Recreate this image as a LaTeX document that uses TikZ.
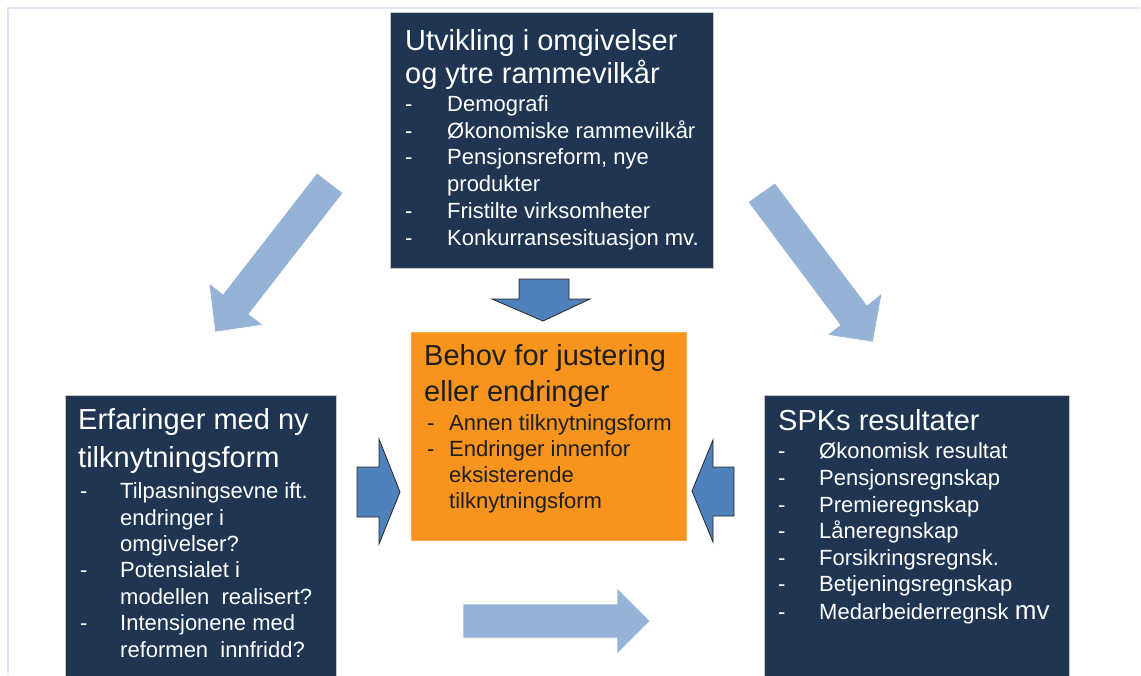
\documentclass[tikz,border=0pt]{standalone}
\usepackage{fontspec}
\setmainfont{Liberation Sans}

\definecolor{navy}{HTML}{1F3552}
\definecolor{frameblue}{HTML}{DCE6F2}
\definecolor{paleblue}{HTML}{95B3D7}
\definecolor{midblue}{HTML}{4F81BD}
\definecolor{boxorange}{HTML}{F7941E}
\definecolor{darktext}{HTML}{1E1E1E}

\tikzset{
	panel/.style = {anchor = north west, inner sep = 0pt, draw = gray!45, line width = 0.6pt},
	heading/.style = {anchor = base west, inner sep = 0pt, font = \fontsize{29}{33}\selectfont},
	entry/.style = {anchor = base west, inner sep = 0pt, font = \fontsize{22}{27}\selectfont},
	pale arrow/.style = {fill = paleblue, draw = white, line width = 0.6pt},
	push arrow/.style = {fill = midblue, draw = black!85, line width = 0.8pt, line join = miter}
}

\begin{document}
\begin{tikzpicture}[x = 1pt, y = -1pt]

	\useasboundingbox (0, 0) rectangle (1141, 675);

	% Frame

	\draw [frameblue, line width = 2pt] (7.5, 675) -- (7.5, 7.5) -- (1140, 7.5);

	% Boxes

	\node [panel, fill = navy, minimum width = 323pt, minimum height = 256pt] (env) at (390, 12) {};
	\node [panel, fill = boxorange, draw = boxorange!80!white, minimum width = 275pt, minimum height = 208pt] (need) at (411, 332) {};
	\node [panel, fill = navy, minimum width = 271pt, minimum height = 281pt] (exp) at (65, 395) {};
	\node [panel, fill = navy, minimum width = 305pt, minimum height = 281pt] (res) at (764, 395) {};

	% Top box text

	\foreach \y/\txt [count = \i] in {50/Utvikling i omgivelser, 83/og ytre rammevilkår}
		\node [heading, text = white] (env-title-\i) at (405, \y) {\txt};
	\foreach \y [count = \i] in {111, 138, 164.5, 218, 245}
		\node [entry, text = white] (env-dash-\i) at (405, \y) {-};
	\foreach \y/\txt [count = \i] in {111/Demografi, 138/Økonomiske rammevilkår, 164.5/{Pensjonsreform, nye}, 191/produkter, 218/Fristilte virksomheter, 245/Konkurransesituasjon mv.}
		\node [entry, text = white] (env-item-\i) at (447, \y) {\txt};

	% Middle box text

	\foreach \y/\txt [count = \i] in {365/Behov for justering, 401/eller endringer}
		\node [heading, text = darktext] (need-title-\i) at (424, \y) {\txt};
	\foreach \y [count = \i] in {430, 456}
		\node [entry, text = darktext] (need-dash-\i) at (427, \y) {-};
	\foreach \y/\txt [count = \i] in {430/Annen tilknytningsform, 456/Endringer innenfor, 482/eksisterende, 508/tilknytningsform}
		\node [entry, text = darktext] (need-item-\i) at (449, \y) {\txt};

	% Left box text

	\foreach \y/\txt [count = \i] in {429/Erfaringer med ny, 467/tilknytningsform}
		\node [heading, text = white] (exp-title-\i) at (78, \y) {\txt};
	\foreach \y [count = \i] in {498, 577, 630}
		\node [entry, text = white] (exp-dash-\i) at (80, \y) {-};
	\foreach \y/\txt [count = \i] in {498/Tilpasningsevne ift., 525/endringer i, 551/omgivelser?, 577/Potensialet i, 604/modellen\ \ realisert?, 630/Intensjonene med, 657/reformen\ \ innfridd?}
		\node [entry, text = white] (exp-item-\i) at (120, \y) {\txt};

	% Right box text

	\node [heading, text = white] (res-title) at (778, 430) {SPKs resultater};
	\foreach \y/\txt [count = \i] in {458/Økonomisk resultat, 485/Pensjonsregnskap, 512/Premieregnskap, 538/Låneregnskap, 565/Forsikringsregnsk., 591/Betjeningsregnskap, 619/{Medarbeiderregnsk {\fontsize{26}{27}\selectfont mv}}}
	{
		\node [entry, text = white] (res-dash-\i) at (778, \y) {-};
		\node [entry, text = white] (res-item-\i) at (819, \y) {\txt};
	}

	% Pale arrows

	\draw [pale arrow] (317, 173) -- (343, 193) -- (249, 314) -- (263, 325) -- (215, 332) -- (209, 283) -- (223, 294) -- cycle;
	\draw [pale arrow] (748, 202) -- (775, 183) -- (867, 305) -- (882, 293) -- (873, 342) -- (827, 335) -- (840, 325) -- cycle;
	\draw [pale arrow] (463, 604) -- (617, 604) -- (617, 588) -- (650, 621) -- (617, 654) -- (617, 638) -- (463, 638) -- cycle;

	% Arrows into the middle box

	\draw [push arrow] (519, 279) -- (569, 279) -- (569, 299) -- (590, 299) -- (543, 321) -- (492, 299) -- (519, 299) -- cycle;
	\draw [push arrow] (357, 467) -- (379, 467) -- (379, 439) -- (400, 492) -- (379, 544) -- (379, 517) -- (357, 517) -- cycle;
	\draw [push arrow] (734, 467) -- (713, 467) -- (713, 440) -- (692, 491) -- (713, 542) -- (713, 516) -- (734, 516) -- cycle;

\end{tikzpicture}
\end{document}
